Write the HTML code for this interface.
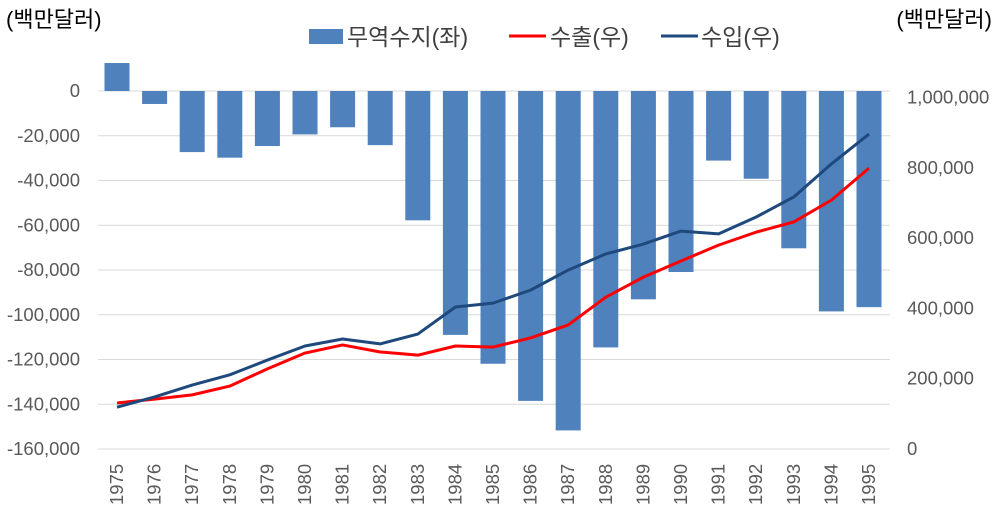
<!DOCTYPE html>
<html><head><meta charset="utf-8"><style>
body{margin:0;background:#fff;}
svg{display:block;font-family:"Liberation Sans","Noto Sans CJK KR",sans-serif;}
</style></head><body>
<svg id="c" width="996" height="509">
<text x="6" y="27" font-size="22" fill="#000">(백만달러)</text>
<text x="992" y="27" font-size="22" fill="#000" text-anchor="end">(백만달러)</text>
<g font-size="23" fill="#404040">
<g><rect x="309" y="29" width="34" height="15" fill="#4f81bd"/><text x="347" y="45">무역수지(좌)</text></g>
<g><line x1="509" y1="36" x2="546" y2="36" stroke="#ff0000" stroke-width="3"/><text x="550" y="45">수출(우)</text></g>
<g><line x1="661" y1="36" x2="698" y2="36" stroke="#1f497d" stroke-width="3"/><text x="701" y="45">수입(우)</text></g>
</g>
<g id="grid"></g><g id="bars"></g><g id="lines"></g><g id="axes"></g>
</svg>
<script>
const years=[1975,1976,1977,1978,1979,1980,1981,1982,1983,1984,1985,1986,1987,1988,1989,1990,1991,1992,1993,1994,1995];
const balance=[12500,-5800,-27300,-29800,-24600,-19400,-16200,-24200,-57800,-109000,-121900,-138500,-151700,-114600,-93100,-80900,-31100,-39200,-70300,-98500,-96600];
const exportsV=[131000,142000,154000,179000,228000,273000,296000,276000,267000,293000,290000,316000,353000,432000,489000,535000,580000,617000,646000,708000,799000];
const importsV=[119000,148000,182000,211000,253000,293000,313000,299000,327000,404000,415000,452000,509000,555000,583000,620000,612000,660000,717000,811000,896000];
const leftTicks=[0,-20000,-40000,-60000,-80000,-100000,-120000,-140000,-160000];
const rightTicks=[0,200000,400000,600000,800000,1000000];
const NS="http://www.w3.org/2000/svg";
const yL=v=>91-v/20000*44.75;
const yR=v=>449-v/1e6*351.5;
const xC=i=>117+i*37.6;
const fmt=v=>v.toLocaleString('en-US');
function mk(t,a,p){const e=document.createElementNS(NS,t);for(const k in a)e.setAttribute(k,a[k]);p.appendChild(e);return e;}
const grid=document.getElementById('grid'),bars=document.getElementById('bars'),lines=document.getElementById('lines'),axes=document.getElementById('axes');
leftTicks.forEach(v=>{
 const l=mk('line',{x1:98,x2:890,y1:yL(v),y2:yL(v),stroke:'#d9d9d9','stroke-width':1},grid);
 
 
 const t=mk('text',{x:80,y:yL(v)+6,'text-anchor':'end','font-size':18.5,fill:'#595959'},axes);
 t.textContent=fmt(v);
 
 
});
rightTicks.forEach(v=>{
 const t=mk('text',{x:907,y:yR(v)+6,'font-size':18.5,fill:'#595959'},axes);
 t.textContent=fmt(v);
 
 
});
years.forEach((y,i)=>{
 const v=balance[i],y0=yL(0),y1=yL(v);
 const r=mk('rect',{x:xC(i)-12.5,y:Math.min(y0,y1),width:25,height:Math.abs(y1-y0),fill:'#4f81bd'},bars);
 
 
 const t=mk('text',{transform:`translate(${xC(i)+6},${505}) rotate(-90)`,'font-size':18.5,fill:'#595959'},axes);
 t.textContent=y;
 
 
});
function line(arr,col,name){
 const p=mk('polyline',{points:arr.map((v,i)=>xC(i)+','+yR(v)).join(' '),fill:'none',stroke:col,'stroke-width':3,'stroke-linejoin':'round'},lines);
 
 
}
line(exportsV,'#ff0000','exports-line');
line(importsV,'#1f497d','imports-line');
</script>
</body></html>
